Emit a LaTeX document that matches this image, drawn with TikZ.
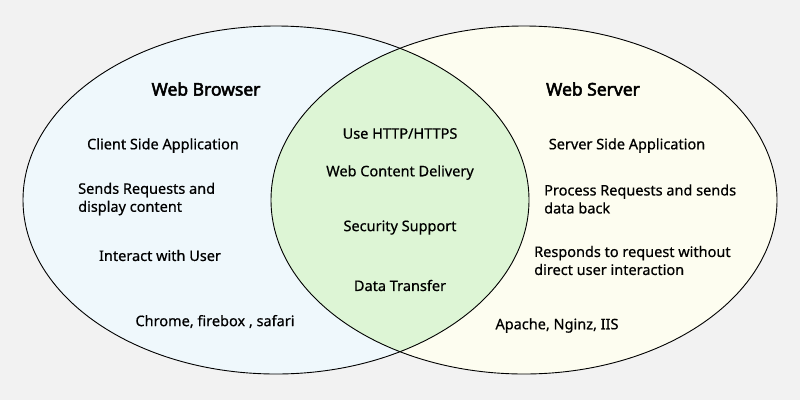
\documentclass[tikz,border=0pt]{standalone}
\usepackage{fontspec}
\setmainfont{Noto Sans}[FakeBold=0.6]
\newfontfamily\ttlfont{Noto Sans}[FakeBold=2.8]
\definecolor{bgc}{HTML}{F2F2F2}
\definecolor{leftc}{HTML}{EFF8FC}
\definecolor{rightc}{HTML}{FDFDF0}
\definecolor{midc}{HTML}{DDF5D5}
\tikzset{
  lbl/.style={font=\fontsize{14.5}{18}\selectfont, inner sep=0pt},
  lblL/.style={lbl, align=left, anchor=west},
  ttl/.style={font=\fontsize{17.5}{20}\selectfont\ttlfont, inner sep=0pt},
}
\begin{document}
\begin{tikzpicture}[x=1pt,y=-1pt]
\useasboundingbox (0,0) rectangle (800,400);
\fill[bgc] (0,0) rectangle (800,400);
\fill[leftc] (276,200) ellipse [x radius=253, y radius=174];
\fill[rightc] (524,200) ellipse [x radius=253, y radius=174];
\begin{scope}
  \clip (276,200) ellipse [x radius=253, y radius=174];
  \fill[midc] (524,200) ellipse [x radius=253, y radius=174];
\end{scope}
\draw[line width=0.9pt] (276,200) ellipse [x radius=253, y radius=174];
\draw[line width=0.9pt] (524,200) ellipse [x radius=253, y radius=174];

\node[ttl] (t1) at (206,89) {Web Browser};
\node[ttl] (t2) at (593,89) {Web Server};

\node[lbl] (a1) at (163,145.5) {Client Side Application};
\node[lblL] (a2) at (78,199) {Sends Requests and\\display content};
\node[lbl] (a3) at (160,255.5) {Interact with User};
\node[lbl] (a4) at (215,321.5) {Chrome, firebox , safari};

\node[lbl] (m1) at (400,133.5) {Use HTTP/HTTPS};
\node[lbl] (m2) at (400,172.5) {Web Content Delivery};
\node[lbl] (m3) at (400,227.5) {Security Support};
\node[lbl] (m4) at (400,285.5) {Data Transfer};

\node[lbl] (b1) at (627,145.5) {Server Side Application};
\node[lblL] (b2) at (544,199) {Process Requests and sends\\data back};
\node[lblL] (b3) at (534,260.5) {Responds to request without\\direct user interaction};
\node[lbl] (b4) at (557,325.5) {Apache, Nginz, IIS};
\end{tikzpicture}
\end{document}
